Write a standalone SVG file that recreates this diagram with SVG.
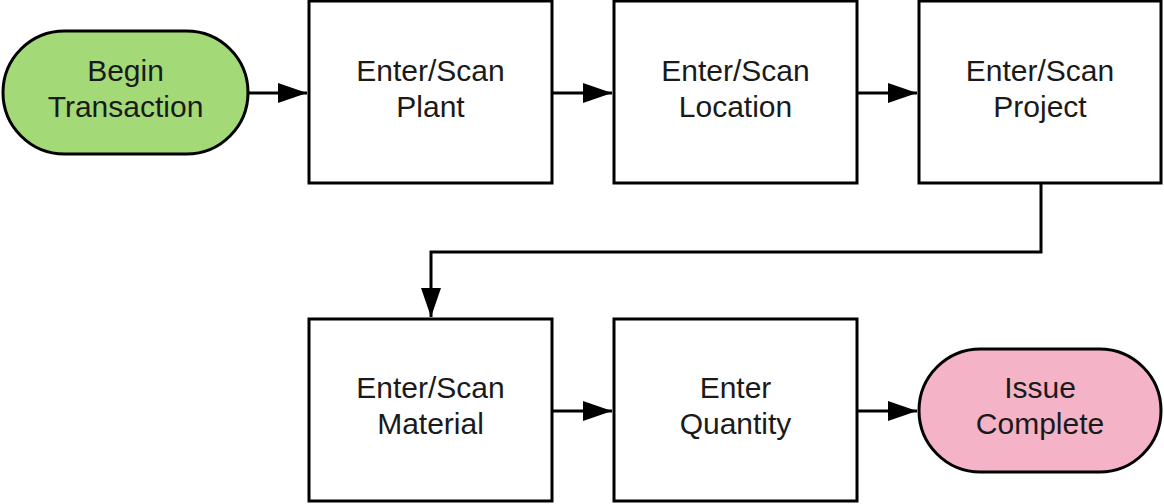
<svg xmlns="http://www.w3.org/2000/svg" width="1164" height="504" viewBox="0 0 1164 504">
<defs>
<style>
.n{fill:#fff;stroke:#000;stroke-width:3}
.t{font-family:"Liberation Sans",Arial,sans-serif;font-size:30px;fill:#1a1a1a;text-anchor:middle}
.c{fill:none;stroke:#000;stroke-width:3}
</style>
<marker id="a" markerUnits="userSpaceOnUse" markerWidth="30" markerHeight="20" refX="29" refY="10" orient="auto">
<path d="M0,0 L29,10 L0,20 Z" fill="#000"/>
</marker>
</defs>
<rect width="1164" height="504" fill="#fff"/>
<g id="connectors">
<path class="c" d="M248,93 H307" marker-end="url(#a)"/>
<path class="c" d="M552,93 H612" marker-end="url(#a)"/>
<path class="c" d="M857,93 H917" marker-end="url(#a)"/>
<path class="c" d="M1041,183 V252 H431 V317" marker-end="url(#a)"/>
<path class="c" d="M552,411 H612" marker-end="url(#a)"/>
<path class="c" d="M857,411 H917" marker-end="url(#a)"/>
</g>
<g id="begin">
<rect x="3" y="31" width="245" height="123" rx="61.5" fill="#a3d977" stroke="#000" stroke-width="3"/>
<text class="t" x="125.5" y="81">Begin</text>
<text class="t" x="125.5" y="117">Transaction</text>
</g>
<g id="plant">
<rect class="n" x="309" y="1" width="243" height="182"/>
<text class="t" x="430.5" y="81">Enter/Scan</text>
<text class="t" x="430.5" y="117">Plant</text>
</g>
<g id="location">
<rect class="n" x="614" y="1" width="243" height="182"/>
<text class="t" x="735.5" y="81">Enter/Scan</text>
<text class="t" x="735.5" y="117">Location</text>
</g>
<g id="project">
<rect class="n" x="919" y="1" width="242" height="182"/>
<text class="t" x="1040" y="81">Enter/Scan</text>
<text class="t" x="1040" y="117">Project</text>
</g>
<g id="material">
<rect class="n" x="309" y="319" width="243" height="182"/>
<text class="t" x="430.5" y="398">Enter/Scan</text>
<text class="t" x="430.5" y="434">Material</text>
</g>
<g id="quantity">
<rect class="n" x="614" y="319" width="243" height="182"/>
<text class="t" x="735.5" y="398">Enter</text>
<text class="t" x="735.5" y="434">Quantity</text>
</g>
<g id="complete">
<rect x="919" y="349" width="242" height="123" rx="61.5" fill="#f4b3c7" stroke="#000" stroke-width="3"/>
<text class="t" x="1040" y="398">Issue</text>
<text class="t" x="1040" y="434">Complete</text>
</g>
</svg>
